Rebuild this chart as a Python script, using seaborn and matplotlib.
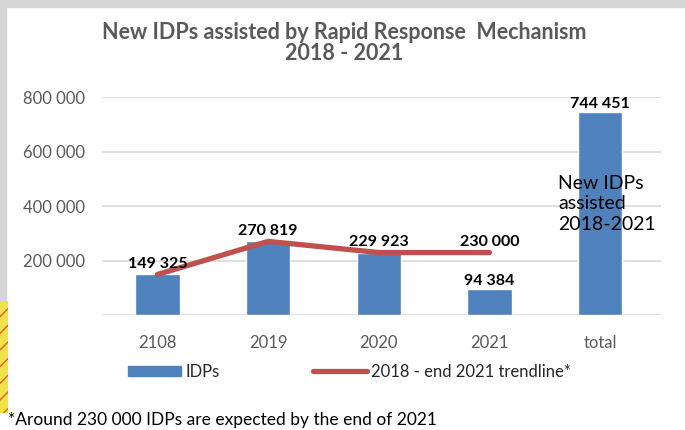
import matplotlib
matplotlib.use("Agg")
import matplotlib.pyplot as plt
import matplotlib.patches as mpatches
from matplotlib.lines import Line2D
from matplotlib.ticker import FuncFormatter
import pandas as pd
import seaborn as sns

# --- Data ---
categories = ['2108', '2019', '2020', '2021', 'total']
idps = [149325, 270819, 229923, 94384, 744451]
trend_years = ['2108', '2019', '2020', '2021']
trend_values = [149325, 270819, 229923, 230000]
bar_labels = ['', '', '', '94 384', '744 451']
trend_labels = ['149 325', '270 819', '229 923', '230 000']
yticks = [0, 200000, 400000, 600000, 800000]

BLUE = '#4F81BD'
RED = '#C0504D'
GRAY = '#595959'

sns.set_style('white')
plt.rcParams['font.family'] = ['Lato', 'DejaVu Sans']

fig = plt.figure(figsize=(6.85, 4.30), dpi=100)
ax = fig.add_axes([0.149, 0.267, 0.816, 0.507])

df = pd.DataFrame({'cat': categories, 'IDPs': idps})
sns.barplot(data=df, x='cat', y='IDPs', color=BLUE, width=0.4, saturation=1, ax=ax, zorder=2)

trend_df = pd.DataFrame({'x': range(len(trend_years)), 'v': trend_values})
sns.lineplot(data=trend_df, x='x', y='v', color=RED, linewidth=3.8, ax=ax, zorder=3,
             solid_capstyle='round')

ax.set_ylim(0, 800000)
ax.set_xlim(-0.5, len(categories) - 0.45)
ax.set_yticks(yticks)
ax.yaxis.set_major_formatter(FuncFormatter(lambda v, p: '' if v == 0 else f'{int(v):,}'.replace(',', ' ')))
ax.grid(axis='y', color='#d9d9d9', linewidth=1.2, zorder=0)
ax.set_axisbelow(True)
for s in ax.spines.values():
    s.set_visible(False)
ax.tick_params(axis='both', length=0, labelsize=12, labelcolor=GRAY)
ax.tick_params(axis='y', pad=12)
ax.tick_params(axis='x', pad=14)
ax.set_xlabel('')
ax.set_ylabel('')

# value labels
for i, lab in enumerate(trend_labels):
    ax.text(i, trend_values[i] + 12000, lab, ha='center', va='bottom', fontsize=11.5,
            fontweight='bold', color='black', zorder=4)
for i, lab in enumerate(bar_labels):
    if lab:
        ax.text(i, idps[i] + 5000, lab, ha='center', va='bottom', fontsize=11.5,
                fontweight='bold', color='black', zorder=4)

ax.text(3.62, 515000, 'New IDPs\nassisted\n2018-2021', ha='left', va='top', fontsize=14,
        color='black', linespacing=1.25, zorder=4)

fig.suptitle('New IDPs assisted by Rapid Response  Mechanism\n2018 - 2021', x=0.502, y=0.948,
             fontsize=15.5, fontweight='bold', color=GRAY, linespacing=0.95)

handles = [mpatches.Patch(color=BLUE, label='IDPs'),
           Line2D([0], [0], color=RED, linewidth=3.8, solid_capstyle='round',
                  label='2018 - end 2021 trendline*')]
fig.legend(handles=handles, loc='center', bbox_to_anchor=(0.51, 0.135), ncol=2, frameon=False,
           fontsize=12, handlelength=3.2, handleheight=0.6, columnspacing=5.6, handletextpad=0.25)

fig.text(0.012, 0.004, '*Around 230 000 IDPs are expected by the end of 2021', fontsize=12.5,
         color='black', ha='left', va='bottom')

# background decorations around the panel
fig.patches.append(mpatches.Rectangle((0, 0.3), 0.009, 0.7, transform=fig.transFigure,
                                      color='#d6d6d6', zorder=0))
fig.patches.append(mpatches.Rectangle((0, 0.983), 1, 0.017, transform=fig.transFigure,
                                      color='#d6d6d6', zorder=0))
fig.patches.append(mpatches.Rectangle((0, 0.04), 0.012, 0.26, transform=fig.transFigure,
                                      facecolor='#f2e24a', edgecolor='#e0602a', hatch='//',
                                      linewidth=0, zorder=0))

fig.savefig('out.png', dpi=100)
